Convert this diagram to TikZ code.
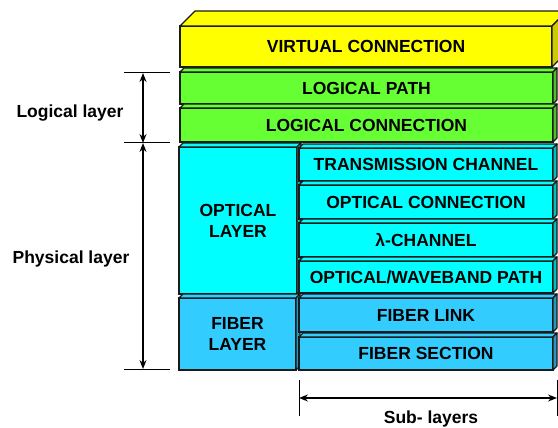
\documentclass[tikz,border=0pt]{standalone}
\usepackage{fontspec}
\setmainfont{Liberation Sans}
\usetikzlibrary{calc,arrows.meta}
\definecolor{yel}{HTML}{FFFF00}
\definecolor{yelside}{HTML}{CCCC00}
\definecolor{grn}{HTML}{66FF33}
\definecolor{grnside}{HTML}{4DC026}
\definecolor{cyn}{HTML}{00FFFF}
\definecolor{cynside}{HTML}{00BFBF}
\definecolor{blu}{HTML}{33CCFF}
\definecolor{bluside}{HTML}{2699C0}
\definecolor{edge}{HTML}{1A1A1A}
% #1 name, #2 x1, #3 y1, #4 x2, #5 y2, #6 front colour, #7 side colour, #8 depth, #9 text
\newcommand\layerbox[9]{%
  \node[front, fill=#6, minimum width={#4-#2}, minimum height={#5-#3}] (#1) at ({(#2+#4)/2},{(#3+#5)/2}) {#9};
  \draw[facestyle, fill=#6] (#1.north west) -- ++(#8,-#8) -- ($(#1.north east)+(#8,-#8)$) -- (#1.north east) -- cycle;
  \draw[facestyle, fill=#7] (#1.north east) -- ++(#8,-#8) -- ($(#1.south east)+(#8,-#8)$) -- (#1.south east) -- cycle;
}
\tikzset{
  front/.style={draw=edge, line width=1.2pt, inner sep=0pt, outer sep=0pt, align=center,
    font=\bfseries\fontsize{17.5}{21}\selectfont},
  facestyle/.style={draw=edge, line width=1.2pt, line join=round},
  lbl/.style={font=\bfseries\fontsize{17.5}{21}\selectfont, inner sep=0pt},
  dim/.style={line width=1.2pt, {Stealth[length=9pt,width=7pt,inset=3pt]}-{Stealth[length=9pt,width=7pt,inset=3pt]}},
  tick/.style={line width=1pt}
}
\begin{document}
\begin{tikzpicture}[x=1pt,y=-1pt]
\useasboundingbox (0,0) rectangle (558,428);
\clip (0,0) rectangle (558,428);
\fill[white] (0,0) rectangle (558,428);
% stack
\layerbox{vc}{180}{26}{552}{67}{yel}{yelside}{15}{VIRTUAL CONNECTION}
\layerbox{lp}{180}{72}{553}{104}{grn}{grnside}{4}{LOGICAL PATH}
\layerbox{lc}{180}{108}{553}{142}{grn}{grnside}{4}{LOGICAL CONNECTION}
\layerbox{ol}{179}{147}{297}{294}{cyn}{cynside}{4}{OPTICAL\\LAYER}
\layerbox{fl}{179}{298}{296}{370}{blu}{bluside}{4}{FIBER\\LAYER}
\layerbox{tc}{299}{148}{553}{181}{cyn}{cynside}{4}{TRANSMISSION CHANNEL}
\layerbox{oc}{299}{185}{553}{219}{cyn}{cynside}{4}{OPTICAL CONNECTION}
\layerbox{lam}{299}{223}{553}{257}{cyn}{cynside}{4}{λ-CHANNEL}
\layerbox{owp}{299}{261}{553}{293}{cyn}{cynside}{4}{OPTICAL/WAVEBAND PATH}
\layerbox{flk}{299}{298}{553}{332}{blu}{bluside}{4}{FIBER LINK}
\layerbox{fs}{299}{337}{553}{370}{blu}{bluside}{4}{FIBER SECTION}
% left dimensions
\coordinate (t1a) at (124,73);  \coordinate (t1b) at (170,73);
\coordinate (t2a) at (124,143); \coordinate (t2b) at (170,143);
\coordinate (t3a) at (124,369); \coordinate (t3b) at (170,369);
\draw[tick] (t1a) -- (t1b);
\draw[tick] (t2a) -- (t2b);
\draw[tick] (t3a) -- (t3b);
\coordinate (a1) at (143,73);
\coordinate (a2) at (143,143);
\coordinate (a3) at (143,369);
\draw[dim] (a1) -- (a2);
\draw[dim] (a2) -- (a3);
\node[lbl] (logl) at (70,113) {Logical layer};
\node[lbl] (phyl) at (71,259) {Physical layer};
% bottom dimension
\coordinate (b1a) at (299,380); \coordinate (b1b) at (299,416);
\coordinate (b2a) at (557,380); \coordinate (b2b) at (557,416);
\draw[tick] (b1a) -- (b1b);
\draw[tick] (b2a) -- (b2b);
\coordinate (s1) at (299,398);
\coordinate (s2) at (557,398);
\draw[dim] (s1) -- (s2);
\node[lbl] (subl) at (431,419) {Sub- layers};
\end{tikzpicture}
\end{document}
